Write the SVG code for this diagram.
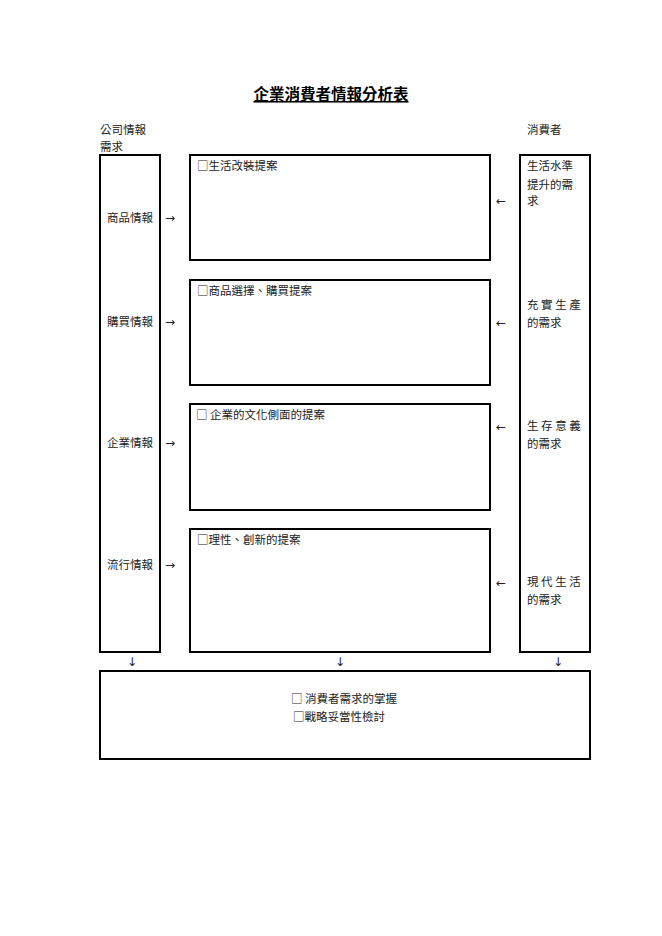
<svg xmlns="http://www.w3.org/2000/svg" width="662" height="936" viewBox="0 0 662 936">
<style>
.bx{fill:none;stroke:#000;stroke-width:2}
text{font-family:"Noto Sans CJK TC","Noto Sans CJK JP",sans-serif;font-size:11.5px;fill:#222}
.t{font-size:15.5px;font-weight:bold;text-decoration:underline;fill:#000}
.ar{font-family:"DejaVu Sans",sans-serif;font-size:12px}
</style>
<rect width="662" height="936" fill="#fff"/>
<text class="t" x="331" y="100" text-anchor="middle">企業消費者情報分析表</text>
<g id="headers">
<text x="100" y="134">公司情報</text>
<text x="100" y="151">需求</text>
<text x="527" y="134">消費者</text>
</g>
<g id="company">
<rect class="bx" x="100" y="155" width="60" height="497"/>
<text x="107" y="222">商品情報</text>
<text x="107" y="326">購買情報</text>
<text x="107" y="447">企業情報</text>
<text x="107" y="569">流行情報</text>
</g>
<g id="p1"><rect class="bx" x="190" y="155" width="300" height="105"/><text x="197" y="170">□生活改裝提案</text></g>
<g id="p2"><rect class="bx" x="190" y="280" width="300" height="105"/><text x="197" y="295">□商品選擇、購買提案</text></g>
<g id="p3"><rect class="bx" x="190" y="404" width="300" height="106"/><text x="196" y="419">□ 企業的文化側面的提案</text></g>
<g id="p4"><rect class="bx" x="190" y="529" width="300" height="123"/><text x="197" y="544">□理性、創新的提案</text></g>
<g id="consumer">
<rect class="bx" x="520" y="155" width="70" height="497"/>
<text x="527" y="170">生活水準</text>
<text x="527" y="189">提升的需</text>
<text x="527" y="205">求</text>
<text x="527" y="309">充 實 生 產</text>
<text x="527" y="327">的需求</text>
<text x="527" y="430">生 存 意 義</text>
<text x="527" y="448">的需求</text>
<text x="527" y="586">現 代 生 活</text>
<text x="527" y="604">的需求</text>
</g>
<g id="result">
<rect class="bx" x="100" y="671" width="490" height="88"/>
<text x="291" y="703">□ 消費者需求的掌握</text>
<text x="293" y="721">□戰略妥當性檢討</text>
</g>
<g id="connectors">
<text class="ar" x="165" y="222">→</text>
<text class="ar" x="165" y="326">→</text>
<text class="ar" x="165" y="447">→</text>
<text class="ar" x="165" y="569">→</text>
<text class="ar" x="496" y="205">←</text>
<text class="ar" x="496" y="327">←</text>
<text class="ar" x="496" y="431">←</text>
<text class="ar" x="496" y="587">←</text>
<text class="ar" x="132" y="666" text-anchor="middle">↓</text>
<text class="ar" x="340" y="666" text-anchor="middle">↓</text>
<text class="ar" x="558" y="666" text-anchor="middle">↓</text>
</g>
</svg>
